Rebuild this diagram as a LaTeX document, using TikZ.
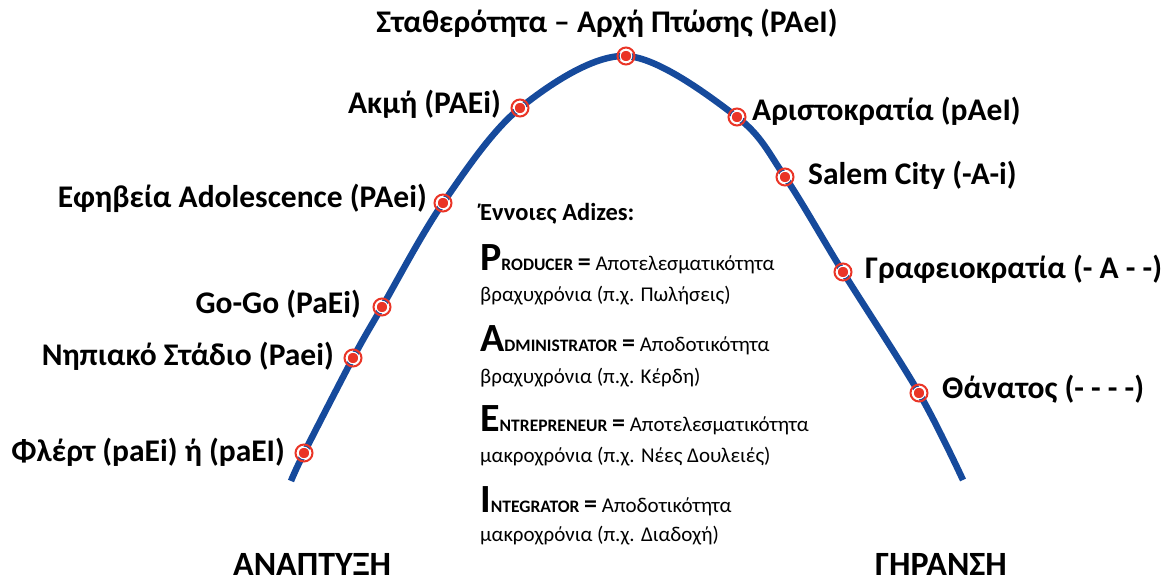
\documentclass[tikz,border=0pt]{standalone}
\usepackage{fontspec}
\setmainfont{Carlito}
\definecolor{curveblue}{RGB}{22,74,156}
\definecolor{dotred}{RGB}{234,52,38}
\newcommand\adzcap[2]{{\bfseries\fontsize{40}{40}\selectfont #1}{\bfseries\fontsize{17.5}{18}\selectfont #2}}
\tikzset{
  lbl/.style={font=\bfseries\fontsize{31.5}{34}\selectfont, inner sep=0pt},
  big/.style={font=\bfseries\fontsize{34}{36}\selectfont, inner sep=0pt},
  body/.style={font=\fontsize{21}{24}\selectfont, inner sep=0pt, anchor=base west},
  head/.style={font=\bfseries\fontsize{24.5}{26}\selectfont, inner sep=0pt, anchor=base west},
  ringc/.style={circle, draw=dotred, line width=2pt, minimum size=17pt, inner sep=0pt},
  dotc/.style={circle, fill=dotred, draw=white, line width=1pt, minimum size=11.5pt, inner sep=0pt},
  curve/.style={draw=curveblue, line width=6.5pt}
}
\begin{document}
\begin{tikzpicture}[x=1pt,y=-1pt]
\useasboundingbox (0,0) rectangle (1170,585);
% curve points
\coordinate (s) at (291,481);
\coordinate (d1) at (304,453);
\coordinate (d2) at (353,358);
\coordinate (d3) at (382,307);
\coordinate (d4) at (443,203);
\coordinate (d5) at (520,108);
\coordinate (d6) at (626,56);
\coordinate (d7) at (737,117);
\coordinate (d8) at (785,177);
\coordinate (d9) at (843,272);
\coordinate (d10) at (919,393);
\coordinate (e) at (963,480);
\draw[curve] plot[smooth, tension=0.55] coordinates {(s) (d1) (d2) (d3) (d4) (d5) (d6) (d7) (d8) (d9) (d10) (e)};
\foreach \i in {1,...,10} {
  \node[ringc] (r\i) at (d\i) {};
  \node[dotc] (c\i) at (d\i) {};
}
% labels
\node[lbl, anchor=base east] (l1) at (285,461) {Φλέρτ (paEi) ή (paEI)};
\node[lbl, anchor=base east] (l2) at (334,365) {Νηπιακό Στάδιο (Paei)};
\node[lbl, anchor=base east] (l3) at (361,313) {Go-Go (PaEi)};
\node[lbl, anchor=base east] (l4) at (427,208) {Εφηβεία Adolescence (PAei)};
\node[lbl, anchor=base east] (l5) at (501,114) {Ακμή (PAEi)};
\node[lbl, anchor=base] (l6) at (607,33) {Σταθερότητα – Αρχή Πτώσης (PAeI)};
\node[lbl, anchor=base west] (l7) at (752,121) {Αριστοκρατία (pAeI)};
\node[lbl, anchor=base west] (l8) at (808,185) {Salem City (-A-i)};
\node[lbl, anchor=base west] (l9) at (865,279) {Γραφειοκρατία (- A - -)};
\node[lbl, anchor=base west] (l10) at (942,398) {Θάνατος (- - - -)};
\node[big, anchor=base west] (dev) at (233,575) {ΑΝΑΠΤΥΞΗ};
\node[big, anchor=base west] (age) at (875,575) {ΓΗΡΑΝΣΗ};
% Adizes box
\node[head] (t0) at (480,221) {Έννοιες Adizes:};
\node[body] (t1) at (480,271) {\adzcap{P}{RODUCER} {\bfseries\fontsize{26}{26}\selectfont =} Αποτελεσματικότητα};
\node[body] (t2) at (480,302) {βραχυχρόνια (π.χ. Πωλήσεις)};
\node[body] (t3) at (480,352) {\adzcap{A}{DMINISTRATOR} {\bfseries\fontsize{26}{26}\selectfont =} Αποδοτικότητα};
\node[body] (t4) at (480,383) {βραχυχρόνια (π.χ. Κέρδη)};
\node[body] (t5) at (480,431) {\adzcap{E}{NTREPRENEUR} {\bfseries\fontsize{26}{26}\selectfont =} Αποτελεσματικότητα};
\node[body] (t6) at (480,462) {μακροχρόνια (π.χ. Νέες Δουλειές)};
\node[body] (t7) at (480,512) {\adzcap{I}{NTEGRATOR} {\bfseries\fontsize{26}{26}\selectfont =} Αποδοτικότητα};
\node[body] (t8) at (480,541) {μακροχρόνια (π.χ. Διαδοχή)};
\end{tikzpicture}
\end{document}
